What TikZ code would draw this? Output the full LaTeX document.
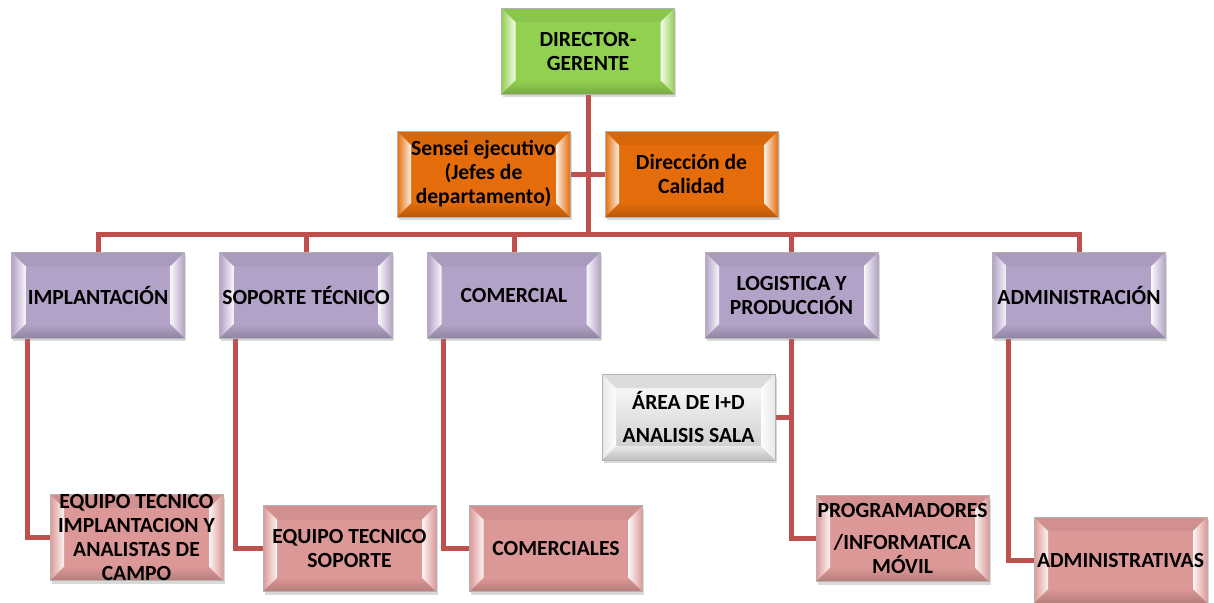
\documentclass[tikz,border=0pt]{standalone}
\usepackage{fontspec}
\setmainfont{Carlito}
\usetikzlibrary{shadows,backgrounds}
\definecolor{verde}{RGB}{146,208,80}
\definecolor{naranja}{RGB}{228,108,10}
\definecolor{lila}{RGB}{179,162,199}
\definecolor{rosa}{RGB}{220,152,150}
\definecolor{gris}{RGB}{232,232,232}
\definecolor{rojo}{RGB}{192,80,77}
\newcommand{\cajafont}{\bfseries\fontsize{10.8}{12}\selectfont}

\begin{document}
\begin{tikzpicture}[
      x=0.5pt, y=-0.5pt,
      every node/.style={inner sep=0pt, font=\cajafont, align=center},
      caja/.style={draw=black!30, fill=#1, minimum width=86.5pt, minimum height=43pt,
        drop shadow={shadow xshift=0.8pt, shadow yshift=-1.6pt, opacity=0.3},
        path picture={
          \fill[#1!95!black] (path picture bounding box.north west) -- (path picture bounding box.north east)
            -- ([shift={(-7pt,-7pt)}]path picture bounding box.north east) -- ([shift={(7pt,-7pt)}]path picture bounding box.north west) -- cycle;
          \shade[top color=#1, bottom color=#1!82!black] (path picture bounding box.south west) -- (path picture bounding box.south east)
            -- ([shift={(-7pt,7pt)}]path picture bounding box.south east) -- ([shift={(7pt,7pt)}]path picture bounding box.south west) -- cycle;
          \shade[left color=#1, right color=white!90!#1] (path picture bounding box.north west) -- ([shift={(7pt,-7pt)}]path picture bounding box.north west)
            -- ([shift={(7pt,7pt)}]path picture bounding box.south west) -- (path picture bounding box.south west) -- cycle;
          \shade[left color=white!90!#1, right color=#1] ([shift={(-7pt,-7pt)}]path picture bounding box.north east) -- (path picture bounding box.north east)
            -- (path picture bounding box.south east) -- ([shift={(-7pt,7pt)}]path picture bounding box.south east) -- cycle;
        }},
      link/.style={draw=rojo, line width=2.5pt}
    ]
      \useasboundingbox (0,0) rectangle (1214,602);
      \node[caja=verde] (dir) at (588,51) {DIRECTOR-\\GERENTE};
      \node[caja=naranja] (sensei) at (483.5,174) {Sensei ejecutivo\\(Jefes de\\departamento)};
      \node[caja=naranja] (calidad) at (691.5,174) {Dirección de\\Calidad};
      \node[caja=lila] (impl) at (98,295) {IMPLANTACIÓN};
      \node[caja=lila] (soporte) at (306,295) {SOPORTE TÉCNICO};
      \node[caja=lila] (comercial) at (514,295) {COMERCIAL};
      \node[caja=lila] (logistica) at (791.5,295) {LOGISTICA Y\\PRODUCCIÓN};
      \node[caja=lila] (admin) at (1079,295) {ADMINISTRACIÓN};
      \node[caja=gris, top color=white, bottom color=black!22] (imasd) at (688.5,417) {ÁREA DE I+D\\[4.5pt]ANALISIS SALA};
      \node[caja=rosa] (eqimpl) at (136.5,537.5) {EQUIPO TECNICO\\IMPLANTACION Y\\ANALISTAS DE\\CAMPO};
      \node[caja=rosa] (eqsoporte) at (349.5,548.5) {EQUIPO TECNICO\\SOPORTE};
      \node[caja=rosa] (comerciales) at (556,548.5) {COMERCIALES};
      \node[caja=rosa] (program) at (902.5,538.5) {PROGRAMADORES\\[4pt]/INFORMATICA\\MÓVIL};
      \node[caja=rosa] (administrativas) at (1120.5,560) {ADMINISTRATIVAS};
      \coordinate (bus) at (588,234);
      \begin{scope}[on background layer]
        \draw[link] (dir) -- (bus);
        \draw[link] (sensei) -- (calidad);
        \draw[link] (impl) |- (bus) -| (admin);
        \foreach \n in {soporte,comercial,logistica}
          \draw[link] (\n) -- (\n |- bus);
        \draw[link] ([xshift=8pt]impl.south west) |- (eqimpl);
        \draw[link] ([xshift=8pt]soporte.south west) |- (eqsoporte);
        \draw[link] ([xshift=8pt]comercial.south west) |- (comerciales);
        \draw[link] (logistica) |- (imasd);
        \draw[link] (logistica) |- (program);
        \draw[link] ([xshift=8pt]admin.south west) |- (administrativas);
      \end{scope}
    \end{tikzpicture}
\end{document}
